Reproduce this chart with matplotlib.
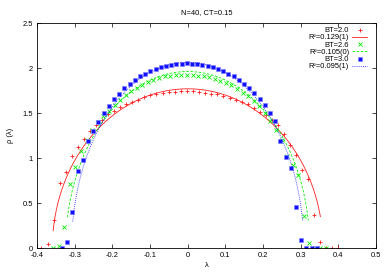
import numpy as np
import matplotlib
matplotlib.use("Agg")
import matplotlib.pyplot as plt
from matplotlib.ticker import FormatStrFormatter, MultipleLocator

plt.rcParams['font.family'] = ['Liberation Sans', 'DejaVu Sans']
plt.rcParams['font.size'] = 5.4

# histogram points, BT=2.0
lam_20 = [-0.389, -0.372, -0.356, -0.340, -0.324, -0.308, -0.292, -0.276, -0.260, -0.244,
          -0.228, -0.211, -0.195, -0.179, -0.163, -0.147, -0.131, -0.115, -0.099, -0.083,
          -0.066, -0.050, -0.034, -0.018, -0.002, 0.014, 0.030, 0.046, 0.062, 0.078,
          0.094, 0.111, 0.127, 0.143, 0.159, 0.175, 0.191, 0.207, 0.223, 0.239,
          0.255, 0.272, 0.288, 0.304, 0.320, 0.336, 0.352, 0.368, 0.384, 0.400]
rho_20 = [0.0, 0.044, 0.31, 0.73, 0.85, 1.03, 1.13, 1.21, 1.30, 1.37,
          1.43, 1.49, 1.53, 1.57, 1.60, 1.63, 1.65, 1.68, 1.70, 1.72,
          1.73, 1.74, 1.74, 1.745, 1.745, 1.745, 1.74, 1.73, 1.72, 1.71,
          1.69, 1.67, 1.65, 1.63, 1.60, 1.56, 1.52, 1.48, 1.43, 1.37,
          1.27, 1.15, 1.04, 0.87, 0.77, 0.37, 0.067, 0.0, 0.0, 0.0]

# BT=2.6
lam_26 = [-0.357, -0.342, -0.327, -0.313, -0.298, -0.283, -0.268, -0.254, -0.239, -0.224,
          -0.209, -0.194, -0.180, -0.165, -0.150, -0.135, -0.121, -0.106, -0.091, -0.076,
          -0.061, -0.047, -0.032, -0.017, -0.002, 0.013, 0.027, 0.042, 0.057, 0.072,
          0.086, 0.101, 0.116, 0.131, 0.146, 0.160, 0.175, 0.190, 0.205, 0.219,
          0.234, 0.249, 0.264, 0.279, 0.293, 0.308, 0.323, 0.338, 0.352, 0.367]
rho_26 = [0.0, 0.03, 0.24, 0.72, 0.90, 1.08, 1.20, 1.31, 1.40, 1.47,
          1.53, 1.59, 1.65, 1.70, 1.75, 1.78, 1.82, 1.85, 1.87, 1.89,
          1.91, 1.92, 1.93, 1.93, 1.93, 1.93, 1.92, 1.91, 1.90, 1.88,
          1.86, 1.84, 1.81, 1.77, 1.73, 1.69, 1.64, 1.58, 1.50, 1.42,
          1.31, 1.20, 1.03, 0.93, 0.81, 0.36, 0.06, 0.0, 0.0, 0.0]

# BT=3.0
lam_30 = [-0.334, -0.320, -0.306, -0.292, -0.278, -0.265, -0.251, -0.237, -0.223, -0.209,
          -0.196, -0.182, -0.168, -0.154, -0.141, -0.127, -0.113, -0.099, -0.085, -0.072,
          -0.058, -0.044, -0.030, -0.016, -0.003, 0.011, 0.025, 0.039, 0.053, 0.066,
          0.080, 0.094, 0.108, 0.122, 0.135, 0.149, 0.163, 0.177, 0.191, 0.204,
          0.218, 0.232, 0.246, 0.260, 0.273, 0.287, 0.301, 0.315, 0.329, 0.342]
rho_30 = [0.0, 0.074, 0.40, 0.86, 0.98, 1.19, 1.30, 1.40, 1.50, 1.58,
          1.66, 1.72, 1.78, 1.83, 1.87, 1.91, 1.94, 1.97, 1.99, 2.01,
          2.03, 2.04, 2.05, 2.05, 2.06, 2.05, 2.05, 2.04, 2.03, 2.01,
          1.99, 1.97, 1.94, 1.91, 1.87, 1.83, 1.78, 1.73, 1.66, 1.59,
          1.50, 1.41, 1.19, 1.01, 0.89, 0.46, 0.09, 0.0, 0.0, 0.0]

# semicircle fits
fit_r2 = [0.129, 0.105, 0.095]
fit_lo = [-0.357, -0.319, -0.305]
fit_hi = [0.352, 0.320, 0.305]
fit_labels = ['R²=0.129(1)', 'R²=0.105(0)', 'R²=0.095(1)']
bt_labels = ['BT=2.0', 'BT=2.6', 'BT=3.0']

colors = ['#ff2020', '#00ee00', '#1010ff']
styles = ['-', (0, (3, 2)), (0, (1, 1.5))]
mk = [dict(marker='+', ms=3.2, mew=0.6),
      dict(marker='x', ms=3.0, mew=0.6),
      dict(marker='s', ms=2.6, mew=0.5, mfc='#1010ff', mec='#8080ff')]

fig = plt.figure(figsize=(3.89, 2.73), dpi=100)
ax = fig.add_axes([0.095, 0.0905, 0.872, 0.824])

pts = [(lam_20, rho_20), (lam_26, rho_26), (lam_30, rho_30)]
for i in range(3):
    ax.plot(pts[i][0], pts[i][1], ls='none', color=colors[i], label=bt_labels[i], **mk[i])
    x = np.linspace(fit_lo[i], fit_hi[i], 400)
    y = 2 / (np.pi * fit_r2[i]) * np.sqrt(np.clip(fit_r2[i] - x ** 2, 0, None))
    ax.plot(x, y, ls=styles[i], lw=0.6, color=colors[i], label=fit_labels[i])

ax.set_xlim(-0.4, 0.5)
ax.set_ylim(0, 2.5)
ax.xaxis.set_major_locator(MultipleLocator(0.1))
ax.yaxis.set_major_locator(MultipleLocator(0.5))
ax.xaxis.set_major_formatter(FormatStrFormatter('%g'))
ax.yaxis.set_major_formatter(FormatStrFormatter('%g'))
ax.tick_params(direction='in', length=3, width=0.5, top=True, right=True, pad=3)
for s in ax.spines.values():
    s.set_linewidth(0.6)

ax.set_title('N=40, CT=0.15', fontsize=5.4, pad=7)
ax.set_xlabel('λ', labelpad=2)
ax.set_ylabel('ρ (λ)', labelpad=6)

ax.legend(loc='upper right', bbox_to_anchor=(0.973, 0.984), markerfirst=False,
          frameon=False, handlelength=2.0, handletextpad=0.4, labelspacing=0.0,
          borderaxespad=0, borderpad=0)

fig.savefig('out.png', dpi=100)
